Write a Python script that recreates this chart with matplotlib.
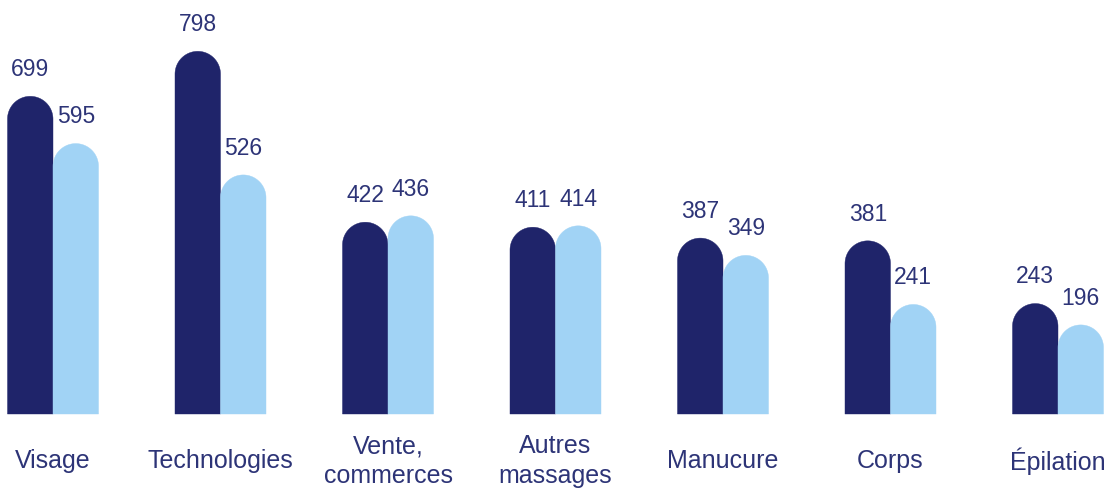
import matplotlib.pyplot as plt
import numpy as np
from matplotlib.patches import Polygon

categories = ["Visage", "Technologies", "Vente,\ncommerces", "Autres\nmassages",
              "Manucure", "Corps", "Épilation"]
serie_1 = [699, 798, 422, 411, 387, 381, 243]
serie_2 = [595, 526, 436, 414, 349, 241, 196]

dark = "#1f246a"
light = "#a1d3f5"
txt = "#2d3477"

plt.rcParams['font.family'] = ['Liberation Sans', 'DejaVu Sans']

fig = plt.figure(figsize=(11.11, 4.88), dpi=100)
ax = fig.add_axes([0, 0, 1, 1])

# pixel -> data conversions (group spacing 167.5 px, 0.4545 px per unit)
px_x = 167.5
px_y = 0.4545
ax.set_xlim(-53 / px_x, (1111 - 53) / px_x)
ax.set_ylim(-(488 - 414) / px_y, 414 / px_y)

w = 45.5 / px_x
r = (45.5 / 2) / px_y  # radius of rounded top in data units
x = np.arange(len(categories))
t = np.linspace(0, np.pi, 60)


def rounded_bar(xc, v, col):
    # bar with a half-round cap, cap top reaches the value
    top = v - r
    arc = np.column_stack([xc + (w / 2) * np.cos(t), top + r * np.sin(t)])
    pts = np.vstack([[xc + w / 2, 0], arc, [xc - w / 2, 0]])
    ax.add_patch(Polygon(pts, closed=True, facecolor=col, edgecolor=col, linewidth=0.3))


for xs, vals, col in [(x - w / 2, serie_1, dark), (x + w / 2, serie_2, light)]:
    for xi, v in zip(xs, vals):
        rounded_bar(xi, v, col)
        ax.annotate(str(v), (xi, v), xytext=(0, 14.5), textcoords="offset points",
                    ha="center", va="baseline", fontsize=16.5, color=txt)

for xi, c in zip(x, categories):
    ax.text(xi, -(461 - 414) / px_y, c, ha="center", va="center", fontsize=18,
            color=txt, linespacing=1.3)

ax.axis("off")
fig.savefig("out.png", dpi=100)
